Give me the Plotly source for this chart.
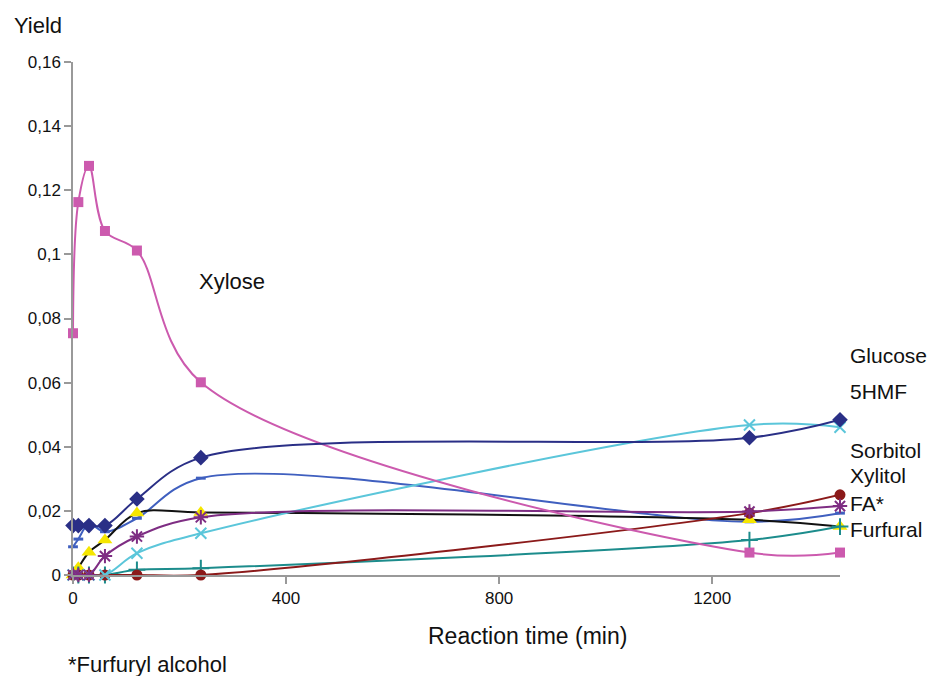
import plotly.graph_objects as go

# Reaction time (min)
time = [0, 10, 30, 60, 120, 240, 1270, 1440]

xylose   = [0.0754, 0.1163, 0.1276, 0.1073, 0.1012, 0.0601, 0.0070, 0.0070]
glucose  = [0.0154, 0.0154, 0.0154, 0.0154, 0.0237, 0.0366, 0.0428, 0.0484]
blue_s   = [0.0088, 0.0112, 0.0159, 0.0135, 0.0177, 0.0302, 0.0166, 0.0193]
black_s  = [0.0, 0.0023, 0.0071, 0.0109, 0.0193, 0.0195, 0.0172, 0.0151]
purple_s = [0.0, 0.0, 0.0, 0.0059, 0.0120, 0.0180, 0.0198, 0.0215]
cyan_s   = [0.0, 0.0, 0.0, 0.0, 0.0068, 0.0130, 0.0468, 0.0461]
teal_s   = [0.0, 0.0, 0.0, 0.0, 0.0016, 0.0021, 0.0109, 0.0151]
red_s    = [0.0, 0.0, 0.0, 0.0, 0.0, 0.0, 0.0193, 0.0250]

y_ticks = [0, 0.02, 0.04, 0.06, 0.08, 0.1, 0.12, 0.14, 0.16]
y_ticktext = ["0", "0,02", "0,04", "0,06", "0,08", "0,1", "0,12", "0,14", "0,16"]
x_ticks = [0, 400, 800, 1200]

right_labels = ["Glucose", "5HMF", "Sorbitol", "Xylitol", "FA*", "Furfural"]
right_label_y = [0.0686, 0.0571, 0.0388, 0.0310, 0.0224, 0.0143]

FONT = "Liberation Sans, Arial, sans-serif"

fig = go.Figure()

def add(y, color, symbol, size, mcolor=None, mline=0, mlinecolor=None):
    fig.add_trace(go.Scatter(
        x=time, y=y, mode="lines+markers",
        line=dict(color=color, width=2, shape="spline", smoothing=1.0),
        marker=dict(symbol=symbol, size=size, color=mcolor or color,
                    line=dict(width=mline, color=mlinecolor or (mcolor or color))),
        cliponaxis=False, showlegend=False, hoverinfo="x+y"))

add(blue_s, "#3F5FBF", "line-ew", 7, mline=3)
add(black_s, "#111111", "triangle-up", 13, mcolor="#F5E600")
add(teal_s, "#1C8C8C", "cross-thin", 12, mline=2)
add(red_s, "#8B1A1A", "circle", 11)
add(cyan_s, "#5BC6DA", "x-thin", 11, mline=2)
add(purple_s, "#7E2D83", "asterisk", 12, mline=2)
add(xylose, "#CC5AAE", "square", 10)
add(glucose, "#2A2F86", "diamond", 12)

annotations = [
    dict(x=232, y=0.0914, xref="x", yref="y", text="Xylose", showarrow=False,
         xanchor="left", yanchor="middle", font=dict(size=22, color="#111111", family=FONT)),
    dict(x=-0.0795, y=1.072, xref="paper", yref="paper", text="Yield", showarrow=False,
         xanchor="left", yanchor="middle", font=dict(size=22, color="#111111", family=FONT)),
    dict(x=0.592, y=-0.119, xref="paper", yref="paper", text="Reaction time (min)", showarrow=False,
         xanchor="center", yanchor="middle", font=dict(size=23, color="#111111", family=FONT)),
    dict(x=-0.0095, y=-0.1735, xref="paper", yref="paper", text="*Furfuryl alcohol", showarrow=False,
         xanchor="left", yanchor="middle", font=dict(size=22, color="#111111", family=FONT)),
]
for lab, ly in zip(right_labels, right_label_y):
    annotations.append(dict(x=1.0117, y=ly, xref="paper", yref="y", text=lab, showarrow=False,
                            xanchor="left", yanchor="middle", borderpad=0,
                            font=dict(size=21, color="#111111", family=FONT)))

fig.update_layout(
    width=937, height=676,
    margin=dict(l=73, r=97, t=62, b=101),
    paper_bgcolor="white", plot_bgcolor="white",
    font=dict(family=FONT, color="#111111"),
    annotations=annotations,
    xaxis=dict(range=[0, 1440], tickvals=x_ticks, showgrid=False, zeroline=False,
               showline=True, linecolor="#999999", linewidth=1.5,
               ticks="outside", ticklen=7, tickcolor="#999999", tickwidth=1.5,
               tickfont=dict(size=17, family=FONT, color="#111111")),
    yaxis=dict(range=[0, 0.16], tickvals=y_ticks, ticktext=y_ticktext, showgrid=False,
               zeroline=False, showline=True, linecolor="#999999", linewidth=1.5,
               ticks="outside", ticklen=7, tickcolor="#999999", tickwidth=1.5,
               tickfont=dict(size=17, family=FONT, color="#111111")),
)

fig.write_html("out.html")
